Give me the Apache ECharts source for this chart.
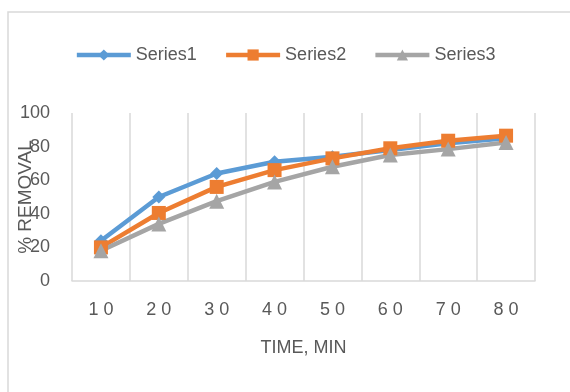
<!DOCTYPE html>
<html>
<head>
<meta charset="utf-8">
<script src="https://cdn.jsdelivr.net/npm/echarts@6/dist/echarts.min.js"></script>
<style>
  html, body { margin: 0; padding: 0; background: #fff; }
  #chart { width: 570px; height: 392px; }
</style>
</head>
<body>
<div id="chart"></div>
<script>
// Removal percentage over contact time for three runs
const times = ['10', '20', '30', '40', '50', '60', '70', '80'];
const series1 = [24, 50, 64, 71, 74, 78, 82, 85];
const series2 = [20, 40.5, 56, 66, 73, 79, 83.5, 86.5];
const series3 = [18, 34, 47.5, 59, 68, 75, 78.5, 82.5];
const yTicks = [0, 20, 40, 60, 80, 100];

const textColor = '#595959';
const gridColor = '#d9d9d9';
const fontFamily = "'Liberation Sans', 'DejaVu Sans', sans-serif";

const chart = echarts.init(document.getElementById('chart'), null, { renderer: 'canvas' });

function lineSeries(name, data, color, symbol, size) {
  return {
    name: name,
    type: 'line',
    data: data,
    symbol: symbol,
    symbolSize: size,
    lineStyle: { color: color, width: 4.5 },
    itemStyle: { color: color },
    emphasis: { disabled: true },
    animation: false
  };
}

chart.setOption({
  backgroundColor: '#fff',
  textStyle: { fontFamily: fontFamily },
  graphic: [{
    type: 'rect',
    shape: { x: 8, y: 12, width: 620, height: 420 },
    style: { fill: 'none', stroke: gridColor, lineWidth: 1.5 },
    silent: true,
    z: -1
  }],
  legend: {
    top: 41,
    left: 'center',
    itemWidth: 54,
    itemHeight: 14,
    itemGap: 27,
    lineStyle: { width: 4.5 },
    textStyle: { color: textColor, fontSize: 18, fontFamily: fontFamily },
    data: ['Series1', 'Series2', 'Series3']
  },
  grid: {
    left: 72, right: 35, top: 113, bottom: 111,
    containLabel: false,
    outerBoundsMode: 'none'
  },
  xAxis: {
    type: 'category',
    data: times,
    boundaryGap: true,
    name: 'TIME, MIN',
    nameLocation: 'middle',
    nameGap: 58,
    nameMoveOverlap: false,
    nameTextStyle: { color: textColor, fontSize: 18, fontFamily: fontFamily },
    axisLine: { lineStyle: { color: gridColor, width: 1.5 } },
    axisTick: { show: false },
    axisLabel: {
      color: textColor,
      fontSize: 18,
      margin: 20,
      formatter: v => v.split('').join(' ')
    },
    splitLine: { show: true, lineStyle: { color: gridColor, width: 1.5 } }
  },
  yAxis: {
    type: 'value',
    min: 0,
    max: 100,
    interval: 20,
    name: '% REMOVAL',
    nameLocation: 'middle',
    nameGap: 37,
    nameRotate: 90,
    nameMoveOverlap: false,
    nameTextStyle: { color: textColor, fontSize: 19, fontFamily: fontFamily },
    axisLine: { show: false },
    axisTick: { show: false },
    splitLine: { show: false },
    axisLabel: {
      color: textColor,
      fontSize: 18,
      margin: 22,
      formatter: v => (yTicks.indexOf(v) >= 0 ? String(v) : '')
    }
  },
  series: [
    lineSeries('Series1', series1, '#5b9bd5', 'diamond', 13),
    lineSeries('Series2', series2, '#ed7d31', 'rect', 14),
    lineSeries('Series3', series3, '#a5a5a5', 'triangle', 15)
  ]
});
</script>
</body>
</html>
